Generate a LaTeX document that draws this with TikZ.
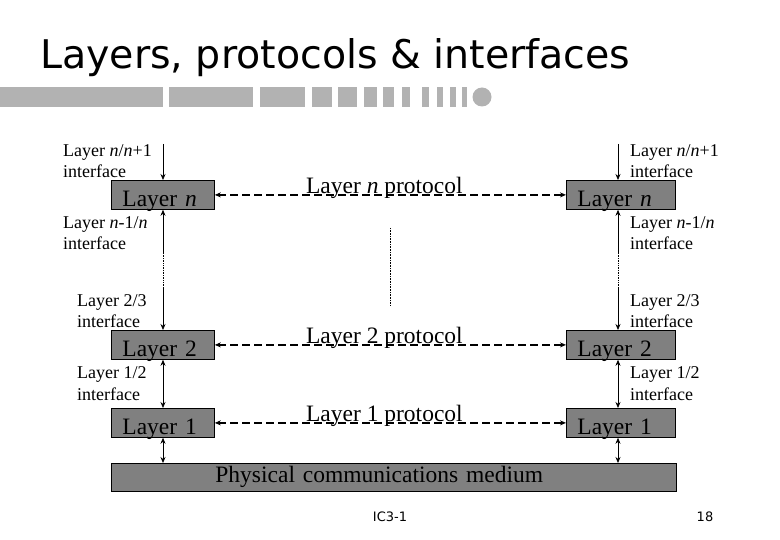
\documentclass[tikz,border=0pt]{standalone}
\usepackage{fontspec}
\setmainfont{Liberation Serif}
\newfontfamily\slidefont{DejaVu Sans}
\usetikzlibrary{arrows.meta,positioning,calc}

\definecolor{boxgray}{RGB}{128,128,128}
\definecolor{bargray}{RGB}{178,178,178}

\tikzset{
    ltip/.tip={Stealth[length=6pt,width=5pt]},
    layerbox/.style={draw, line width=0.8pt, fill=boxgray, anchor=north west,
        minimum height=29pt, inner ysep=0pt, inner xsep=11pt,
        text height=26pt, text depth=3pt, align=left,
        font=\fontsize{23.5}{26}\selectfont},
    ifacelbl/.style={anchor=base west, align=left, inner sep=0pt,
        font=\fontsize{18}{21}\selectfont},
    proto/.style={{ltip}-{ltip}, line width=1.6pt, dash pattern=on 8pt off 4pt},
    protolbl/.style={midway, anchor=base, xshift=-6pt, yshift=1.5pt,
        inner sep=0pt, font=\fontsize{23.5}{26}\selectfont},
    iface/.style={line width=0.7pt}
}

\begin{document}
\begin{tikzpicture}[x=1pt, y=-1pt]
    \useasboundingbox (0,0) rectangle (780,540);

    % Title and bar
    \node[anchor=base west, inner sep=0pt, font=\slidefont\fontsize{39.5}{40}\selectfont]
        (title) at (40,69) {Layers, protocols \& interfaces};
    \foreach \a/\b in {0/163, 169/253, 260/305, 312/332, 338/357, 364/377,
                       383/394, 402/410, 422/429, 437/443, 450/456, 462/467} {
        \fill[bargray] (\a,87) rectangle (\b,107);
    }
    \fill[bargray] (482,97) circle (9.5pt);

    % Layer boxes
    \node[layerbox, text width=81pt] (ln) at (111,180) {Layer \textit{n}};
    \node[layerbox, text width=87pt] (rn) at (566,180) {Layer \textit{n}};
    \node[layerbox, text width=81pt] (l2) at (111,330) {Layer 2};
    \node[layerbox, text width=87pt] (r2) at (566,330) {Layer 2};
    \node[layerbox, text width=81pt] (l1) at (111,408) {Layer 1};
    \node[layerbox, text width=87pt] (r1) at (566,408) {Layer 1};
    \node[layerbox, text width=357pt, inner xsep=104pt, minimum height=28pt,
        text height=19pt, text depth=9pt] (med) at (111,463) {Physical communications medium};

    % Protocols
    \draw[proto] (ln.east) -- node[protolbl] {Layer \textit{n} protocol} (rn.west);
    \draw[proto] (l2.east) -- node[protolbl] {Layer 2 protocol} (r2.west);
    \draw[proto] (l1.east) -- node[protolbl] {Layer 1 protocol} (r1.west);

    % Interfaces, left stack
    \coordinate (tl) at (163,144);
    \coordinate (dl1) at (163,253);
    \coordinate (dl2) at (163,288);
    \draw[iface, -{ltip}] (tl) -- (tl |- ln.north);
    \draw[iface, {ltip}-] (tl |- ln.south) -- (dl1);
    \draw[iface, densely dotted] (dl1) -- (dl2);
    \draw[iface, -{ltip}] (dl2) -- (tl |- l2.north);
    \draw[iface, {ltip}-{ltip}] (tl |- l2.south) -- (tl |- l1.north);
    \draw[iface, {ltip}-{ltip}] (tl |- l1.south) -- (tl |- med.north);

    % Interfaces, right stack
    \coordinate (tr) at (618,144);
    \coordinate (dr1) at (618,253);
    \coordinate (dr2) at (618,288);
    \draw[iface, -{ltip}] (tr) -- (tr |- rn.north);
    \draw[iface, {ltip}-] (tr |- rn.south) -- (dr1);
    \draw[iface, densely dotted] (dr1) -- (dr2);
    \draw[iface, -{ltip}] (dr2) -- (tr |- r2.north);
    \draw[iface, {ltip}-{ltip}] (tr |- r2.south) -- (tr |- r1.north);
    \draw[iface, {ltip}-{ltip}] (tr |- r1.south) -- (tr |- med.north);

    % Middle dots
    \coordinate (c1) at (390,228);
    \coordinate (c2) at (390,305);
    \draw[densely dotted, line width=0.6pt] (c1) -- (c2);

    % Interface labels (base = last line)
    \node[ifacelbl] (lnup) at (63,178) {Layer \textit{n}/\textit{n}+1\\interface};
    \node[ifacelbl] (lndn) at (63,250) {Layer \textit{n}-1/\textit{n}\\interface};
    \node[ifacelbl] (l2up) at (77,328) {Layer 2/3\\interface};
    \node[ifacelbl] (l1up) at (77,400) {Layer 1/2\\interface};
    \node[ifacelbl] (rnup) at (630,178) {Layer \textit{n}/\textit{n}+1\\interface};
    \node[ifacelbl] (rndn) at (630,250) {Layer \textit{n}-1/\textit{n}\\interface};
    \node[ifacelbl] (r2up) at (630,328) {Layer 2/3\\interface};
    \node[ifacelbl] (r1up) at (630,400) {Layer 1/2\\interface};

    % Footer
    \node[anchor=base, inner sep=0pt, font=\slidefont\fontsize{13}{15}\selectfont]
        (foot) at (390,521) {IC3-1};
    \node[anchor=base, inner sep=0pt, font=\slidefont\fontsize{13}{15}\selectfont]
        (page) at (705,521) {18};
\end{tikzpicture}
\end{document}
